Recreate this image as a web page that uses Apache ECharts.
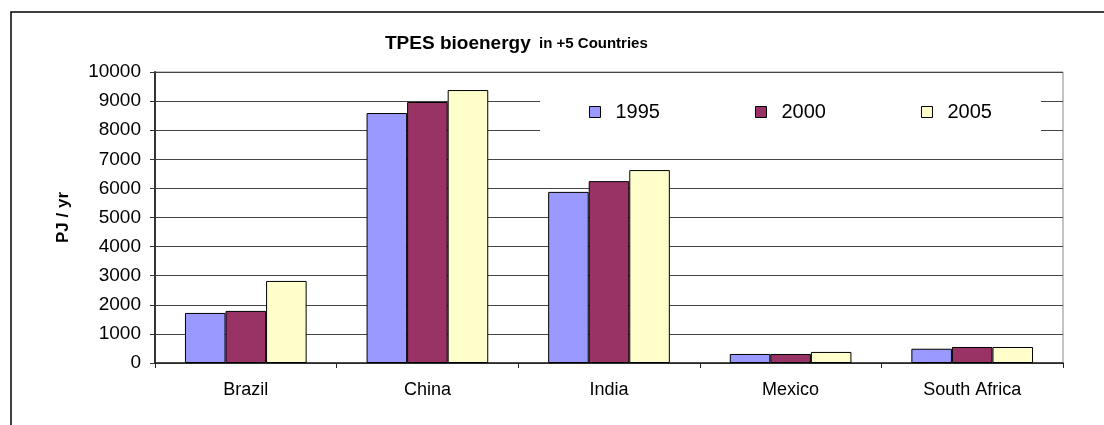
<!DOCTYPE html>
<html>
<head>
    <meta charset="utf-8">
    <title>TPES bioenergy</title>
    <script src="https://cdn.jsdelivr.net/npm/echarts@6/dist/echarts.min.js"></script>
    <style>
        html, body { margin: 0; padding: 0; background: #fff; }
    </style>
</head>
<body>
    <div id="chart" style="width: 1104px;height:425px;"></div>

    <script>
        // 数据
        const countries = ['Brazil', 'China', 'India', 'Mexico', 'South Africa'];
        const years = ['1995', '2000', '2005'];
        const v1995 = [1720, 8590, 5880, 310, 490];
        const v2000 = [1790, 8970, 6250, 310, 550];
        const v2005 = [2820, 9380, 6630, 380, 550];
        const colors = ['#9999FF', '#993366', '#FFFFCC'];

        const chartDom = document.getElementById('chart');
        const myChart = echarts.init(chartDom);

        const seriesData = [v1995, v2000, v2005];

        const option = {
            animation: false,
            textStyle: { fontFamily: 'Liberation Sans, Arial, sans-serif' },
            title: {
                text: '{a|TPES bioenergy}{b|  in +5 Countries}',
                left: 380,
                top: 29,
                textStyle: {
                    rich: {
                        a: { fontSize: 19, fontWeight: 'bold', color: '#000', fontFamily: 'Liberation Sans' },
                        b: { fontSize: 15, fontWeight: 'bold', color: '#000', fontFamily: 'Liberation Sans' }
                    }
                }
            },
            legend: {
                data: years,
                left: 540,
                top: 88,
                z: 10,
                backgroundColor: '#fff',
                padding: [14, 49, 14, 49],
                itemGap: 95,
                itemWidth: 11,
                itemHeight: 11,
                icon: 'rect',
                itemStyle: { borderColor: '#000', borderWidth: 1 },
                textStyle: { fontSize: 20, color: '#000', padding: [0, 0, 0, 10] }
            },
            grid: {
                left: 155,
                right: 41,
                top: 72,
                bottom: 62,
                show: true,
                borderColor: '#888',
                borderWidth: 1
            },
            xAxis: {
                type: 'category',
                data: countries,
                axisLine: { lineStyle: { color: '#222', width: 1.5 } },
                axisTick: { show: true, length: 5, lineStyle: { color: '#222' } },
                axisLabel: { fontSize: 18, color: '#000', margin: 18 }
            },
            yAxis: {
                type: 'value',
                min: 0,
                max: 10000,
                interval: 1000,
                name: 'PJ / yr',
                nameLocation: 'middle',
                nameGap: 83,
                nameTextStyle: { fontSize: 17, fontWeight: 'bold', color: '#000' },
                axisLine: { show: true, lineStyle: { color: '#333', width: 2 } },
                axisTick: { show: true, length: 5, lineStyle: { color: '#333' } },
                axisLabel: { fontSize: 19, color: '#000', margin: 14, formatter: function (v) { return String(v); } },
                splitLine: { lineStyle: { color: '#444', width: 1 } }
            },
            series: years.map(function (y, i) {
                return {
                    name: y,
                    type: 'bar',
                    data: seriesData[i],
                    barGap: 0,
                    barCategoryGap: '33%',
                    itemStyle: { color: colors[i], borderColor: '#000', borderWidth: 1 }
                };
            }),
            graphic: [{
                type: 'rect',
                shape: { x: 11, y: 12, width: 1200, height: 500 },
                style: { fill: 'none', stroke: '#000', lineWidth: 1.5 },
                silent: true
            }]
        };

        myChart.setOption(option);
    </script>
</body>
</html>
